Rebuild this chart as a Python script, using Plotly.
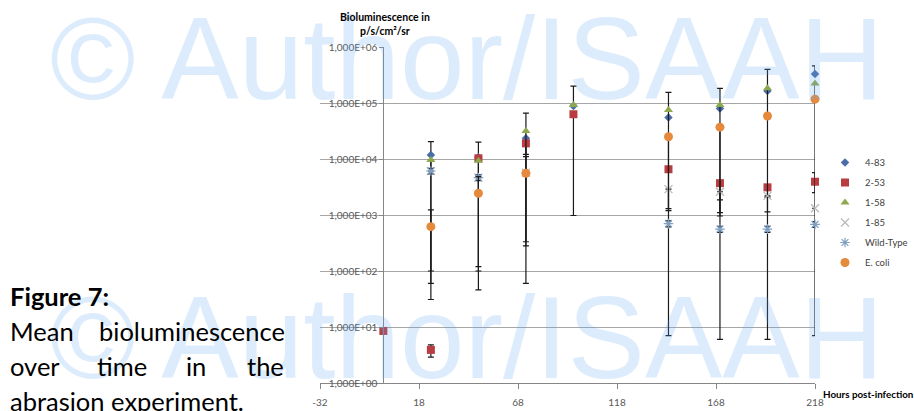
import plotly.graph_objects as go

# ---------------- data ----------------
hours = [0, 24, 48, 72, 96, 144, 170, 194, 218]

s483 = [None, 11800, 10800, 23400, 88000, 55000, 80000, 163000, 330000]
s483_plus = [0, 8700, 9200, 0, 0, 0, 0, 0, 130000]
s483_minus = [0, 11700, 10680, 23118, 0, 0, 0, 0, 0]

s253 = [8.5, 3.9, 10300, 19000, 63000, 6560, 3700, 3120, 3930]
s253_plus = [0, 0.9, 0, 0, 0, 0, 0, 0, 1760]
s253_minus = [0, 1.0, 10200, 6900, 62020, 0, 2600, 1040, 1430]

s158 = [None, 9600, 9300, 31600, 91700, 75000, 92000, 183000, 223000]
s158_plus = [0, 0, 0, 34100, 108300, 80000, 91000, 217000, 0]
s158_minus = [0, 9540, 0, 31267, 0, 74993, 91994, 182994, 222993]

s185 = [None, 6100, 4650, 5700, None, 2900, 2600, 2200, 1320]
s185_plus = [0, 0, 0, 5300, 0, 0, 0, 0, 0]
s185_minus = [0, 0, 0, 0, 0, 1600, 740, 1060, 0]

swt = [None, 6100, 4650, None, None, 700, 560, 560, 680]
swt_plus = [0, 700, 550, 0, 0, 85, 70, 70, 80]
swt_minus = [0, 700, 550, 0, 0, 85, 70, 70, 80]

secoli = [None, 620, 2450, 5560, None, 25000, 37000, 58500, 117000]
secoli_plus = [0, 610, 2400, 0, 0, 0, 0, 0, 0]
secoli_minus = [0, 589, 2404, 5500, 0, 23800, 36040, 0, 0]

x_tickvals = [-32, 18, 68, 118, 168, 218]
x_ticktext = ["-32", "18", "68", "118", "168", "218"]
y_tickvals = [1, 10, 100, 1000, 10000, 100000, 1000000]
y_ticktext = ["1,000E+00", "1,000E+01", "1,000E+02", "1,000E+03",
              "1,000E+04", "1,000E+05", "1,000E+06"]

# ---------------- layout helpers ----------------
W, H = 914, 411
L, R, T, B = 320, 99, 47, 28
PW, PH = W - L - R, H - T - B


def px(xp):
    return (xp - L) / PW


def py(yp):
    return (H - B - yp) / PH


FONT = "Lato"
ERR = "#1a1a1a"

fig = go.Figure()


def add(name, y, plus, minus, symbol, color, size, line=None):
    marker = dict(symbol=symbol, color=color, size=size)
    if line:
        marker["line"] = line
    fig.add_trace(go.Scatter(
        x=hours, y=y, name=name, mode="markers", marker=marker,
        legendgroup=name, cliponaxis=False,
        error_y=dict(type="data", symmetric=False, array=plus, arrayminus=minus,
                     color=ERR, thickness=1.2, width=3),
    ))


add("4-83", s483, s483_plus, s483_minus, "diamond", "#4a6ca8", 6.5)
add("2-53", s253, s253_plus, s253_minus, "square", "#b83c40", 8)
add("1-58", s158, s158_plus, s158_minus, "triangle-up", "#8ea84e", 8)
add("1-85", s185, s185_plus, s185_minus, "x-thin-open", "#b8b8b8", 8,
    dict(color="#b8b8b8", width=1.2))
add("Wild-Type", swt, swt_plus, swt_minus, "asterisk-open", "#7f9fc2", 8,
    dict(color="#7f9fc2", width=1.2))
add("E. coli", secoli, secoli_plus, secoli_minus, "circle", "#e5893c", 9)

annotations = []

# watermark
for yc in (59, 338):
    annotations.append(dict(
        text="© Author/ISAAH", xref="paper", yref="paper",
        x=px(466), y=py(yc), xanchor="center", yanchor="middle",
        showarrow=False,
        font=dict(family="Liberation Sans", size=116, color="rgba(100,170,240,0.22)"),
    ))

# axis titles
annotations.append(dict(
    text="<b>Bioluminescence in</b><br><b>p/s/cm²/sr</b>", xref="paper", yref="paper",
    x=px(385), y=py(24.5), xanchor="center", yanchor="middle", showarrow=False,
    font=dict(family=FONT, size=10.5, color="#000000"),
))
annotations.append(dict(
    text="<b>Hours post-infection</b>", xref="paper", yref="paper",
    x=px(821), y=py(394), xanchor="left", yanchor="middle", showarrow=False,
    font=dict(family=FONT, size=9.8, color="#000000"),
))

# caption at left
words = [
    ("<b>Figure 7:</b>", 8, "left", 296, 25.5),
    ("Mean", 8, "left", 331, 25.5),
    ("bioluminescence", 287, "right", 331, 25.5),
    ("over", 8, "left", 366, 25.5),
    ("time", 122, "center", 366, 25.5),
    ("in", 196, "center", 366, 25.5),
    ("the", 286, "right", 366, 25.5),
    ("abrasion experiment.", 8, "left", 401, 25.5),
]
for txt, xx, anc, yy, fs in words:
    annotations.append(dict(
        text=txt, xref="paper", yref="paper", x=px(xx), y=py(yy),
        xanchor=anc, yanchor="middle", showarrow=False,
        font=dict(family=FONT, size=fs, color="#000000"),
    ))

fig.update_layout(
    width=W, height=H,
    margin=dict(l=L, r=R, t=T, b=B, pad=0, autoexpand=False),
    paper_bgcolor="white", plot_bgcolor="white",
    font=dict(family=FONT, size=10, color="#595959"),
    showlegend=True,
    legend=dict(x=px(825), y=py(148), xanchor="left", yanchor="top",
                font=dict(family=FONT, size=9.5, color="#404040"),
                traceorder="grouped", tracegroupgap=1,
                bgcolor="rgba(0,0,0,0)", itemwidth=30),
    annotations=annotations,
    xaxis=dict(range=[-32, 218], tickvals=x_tickvals, ticktext=x_ticktext,
               ticks="outside", ticklen=5, tickcolor="#868686",
               ticklabelstandoff=5, automargin=False,
               showline=True, linecolor="#868686", linewidth=1,
               showgrid=False, zeroline=False,
               tickfont=dict(family=FONT, size=10, color="#595959")),
    yaxis=dict(type="log", range=[0, 6], tickvals=y_tickvals, ticktext=y_ticktext,
               anchor="free", position=px(383.4), automargin=False,
               ticks="outside", ticklen=4, tickcolor="#868686",
               showline=True, linecolor="#868686", linewidth=1,
               showgrid=True, gridcolor="#a6a6a6", gridwidth=1,
               zeroline=False,
               tickfont=dict(family=FONT, size=10, color="#595959")),
)

fig.write_html("out.html", config={"displayModeBar": False},
               post_script="document.body.style.margin='0px';")
